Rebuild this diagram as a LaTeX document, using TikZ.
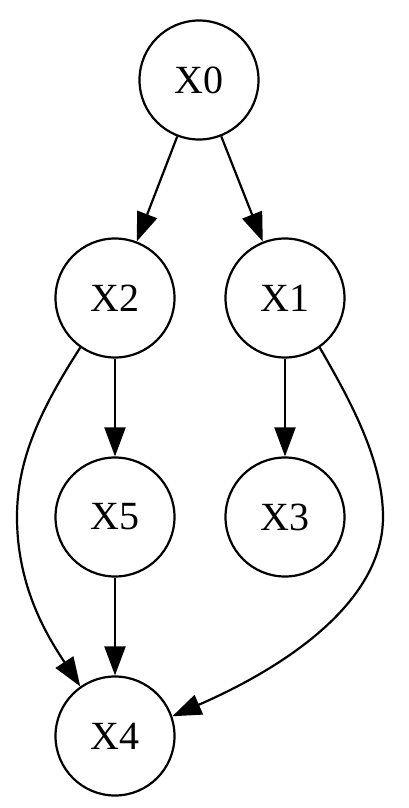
\documentclass[tikz,border=0pt]{standalone}
\usepackage{fontspec}
\setmainfont{Liberation Serif}
\usetikzlibrary{arrows.meta,positioning}

\begin{document}
\begin{tikzpicture}[x=0.5pt,y=-0.5pt,
  var/.style={circle,draw,line width=1.1pt,minimum size=59.5pt,inner sep=0pt,font=\fontsize{20}{22}\selectfont},
  edge/.style={line width=1.1pt,-{Triangle[length=14.5pt,width=10.5pt]}}]
  \useasboundingbox (0,0) rectangle (408,808);
  \node[var] (x0) at (199,80)  {X0};
  \node[var] (x2) at (115,298) {X2};
  \node[var] (x1) at (285,298) {X1};
  \node[var] (x5) at (115,517) {X5};
  \node[var] (x3) at (285,517) {X3};
  \node[var] (x4) at (115,736) {X4};
  \draw[edge] (x0) -- (x2);
  \draw[edge] (x0) -- (x1);
  \draw[edge] (x2) -- (x5);
  \draw[edge] (x1) -- (x3);
  \draw[edge] (x5) -- (x4);
  % long edges round the outside
  \coordinate (lmid) at (17,517);
  \coordinate (rmid) at (383,517);
  \draw[edge] (x2.235) .. controls (40,410) and (17,460) .. (lmid)
    .. controls (17,590) and (50,640) .. (x4.125);
  \draw[edge] (x1.-55) .. controls (350,400) and (383,460) .. (rmid)
    .. controls (383,600) and (290,665) .. (x4.19);
\end{tikzpicture}
\end{document}
